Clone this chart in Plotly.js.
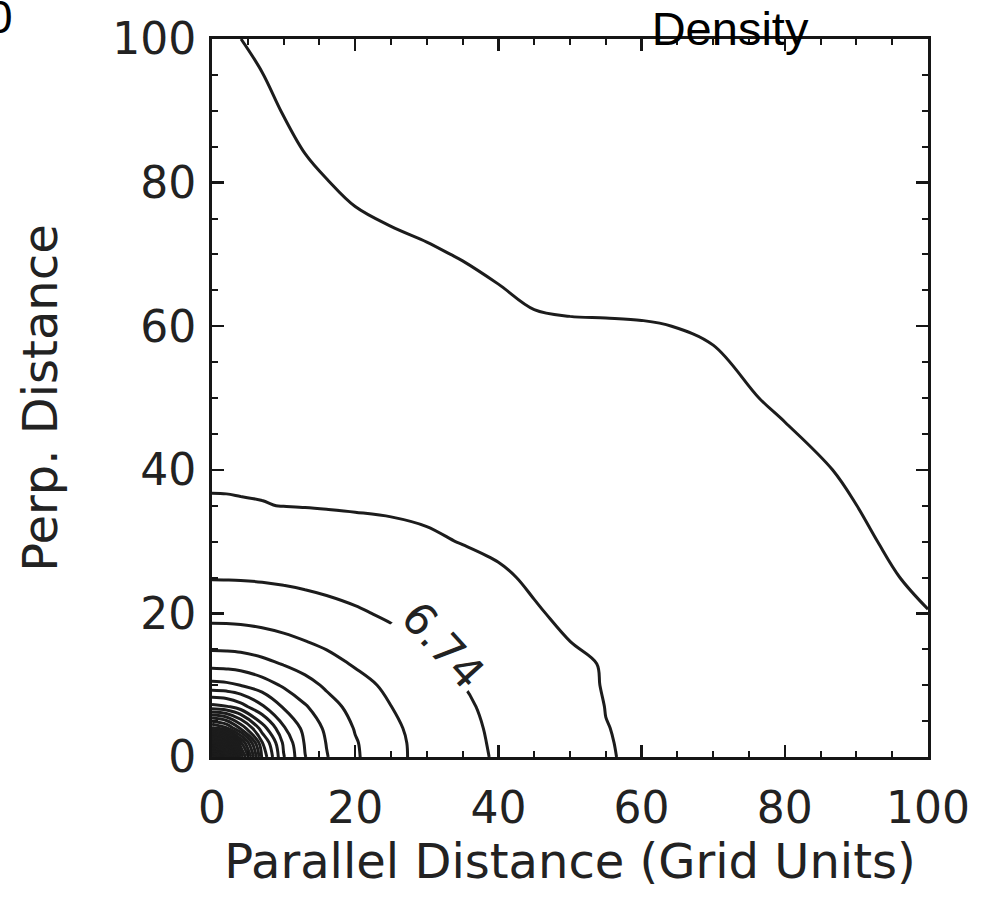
<!DOCTYPE html>
<html>
<head>
<meta charset="utf-8">
<script src="https://cdn.plot.ly/plotly-3.0.1.min.js"></script>
<style>
html,body{margin:0;padding:0;background:#fff;}
#chart{width:986px;height:901px;}
</style>
</head>
<body>
<div id="chart"></div>
<script>
// Grid nodes (grid units)
const parallelDist = [0, 2, 4, 7, 10, 13, 16, 20, 25, 30, 35, 40, 45, 50, 55, 60, 70, 80, 90, 100];
const perpDist = [0, 2, 4, 7, 10, 13, 16, 20, 25, 30, 35, 40, 50, 60, 70, 80, 90, 100];

// Density, one row per perpDist value
const density = [
  [110.8, 75.7, 47.0, 28.8, 20.4, 15.8, 13.6, 11.5, 9.59, 8.29, 7.26, 6.56, 5.80, 5.21, 4.56, 4.34, 3.93, 3.53, 3.12, 2.72],
  [66.5, 55.9, 40.9, 27.1, 19.8, 15.5, 13.4, 11.4, 9.57, 8.25, 7.24, 6.49, 5.77, 5.21, 4.54, 4.34, 3.93, 3.53, 3.12, 2.70],
  [38.9, 36.4, 31.1, 23.6, 18.3, 15.0, 13.1, 11.1, 9.39, 8.18, 7.17, 6.43, 5.73, 5.17, 4.52, 4.31, 3.89, 3.48, 3.06, 2.65],
  [23.2, 22.7, 21.2, 18.3, 15.5, 13.7, 12.1, 10.5, 9.01, 7.91, 7.01, 6.29, 5.62, 5.10, 4.47, 4.27, 3.84, 3.42, 2.99, 2.58],
  [16.4, 16.2, 15.7, 14.5, 13.2, 12.0, 10.9, 9.73, 8.52, 7.53, 6.76, 6.07, 5.48, 4.97, 4.40, 4.22, 3.77, 3.35, 2.92, 2.49],
  [12.7, 12.6, 12.4, 11.8, 11.1, 10.4, 9.66, 8.79, 7.84, 7.06, 6.40, 5.80, 5.28, 4.83, 4.38, 4.16, 3.71, 3.28, 2.85, 2.43],
  [10.3, 10.3, 10.2, 9.91, 9.50, 9.06, 8.61, 7.98, 7.26, 6.61, 6.04, 5.53, 5.06, 4.50, 4.22, 4.07, 3.62, 3.19, 2.74, 2.31],
  [8.29, 8.27, 8.22, 8.07, 7.86, 7.62, 7.35, 6.97, 6.47, 6.00, 5.55, 5.12, 4.58, 4.31, 4.09, 3.98, 3.53, 3.08, 2.63, 2.27],
  [6.64, 6.63, 6.61, 6.54, 6.43, 6.29, 6.13, 5.91, 5.60, 5.28, 4.97, 4.63, 4.36, 4.20, 4.00, 3.82, 3.39, 2.97, 2.52, 2.07],
  [5.53, 5.53, 5.51, 5.48, 5.42, 5.33, 5.24, 5.10, 4.90, 4.67, 4.45, 4.31, 4.16, 3.98, 3.82, 3.64, 3.24, 2.83, 2.38, 1.93],
  [4.55, 4.55, 4.54, 4.52, 4.48, 4.45, 4.41, 4.36, 4.31, 4.25, 4.18, 4.09, 3.93, 3.78, 3.60, 3.42, 3.06, 2.67, 2.25, 1.82],
  [4.39, 4.38, 4.36, 4.34, 4.29, 4.27, 4.22, 4.18, 4.07, 3.95, 3.86, 3.82, 3.73, 3.57, 3.42, 3.21, 2.88, 2.52, 2.11, 1.69],
  [4.04, 4.02, 3.98, 3.89, 3.82, 3.73, 3.69, 3.62, 3.53, 3.39, 3.24, 3.12, 3.08, 3.06, 3.01, 2.88, 2.49, 2.11, 1.78, 1.39],
  [3.69, 3.66, 3.62, 3.48, 3.37, 3.26, 3.17, 3.08, 2.97, 2.85, 2.72, 2.54, 2.36, 2.34, 2.34, 2.31, 2.16, 1.80, 1.37, 0.99],
  [3.33, 3.30, 3.26, 3.12, 2.94, 2.83, 2.67, 2.56, 2.45, 2.34, 2.20, 2.04, 1.87, 1.66, 1.53, 1.53, 1.55, 1.46, 1.10, 0.67],
  [2.99, 2.94, 2.90, 2.76, 2.58, 2.40, 2.27, 2.09, 1.93, 1.80, 1.69, 1.55, 1.39, 1.21, 0.97, 0.79, 0.76, 0.81, 0.72, 0.40],
  [2.63, 2.58, 2.54, 2.43, 2.22, 2.02, 1.84, 1.64, 1.46, 1.28, 1.17, 1.03, 0.90, 0.72, 0.60, 0.50, 0.45, 0.42, 0.40, 0.38],
  [2.36, 2.29, 2.25, 2.09, 1.89, 1.66, 1.46, 1.24, 0.99, 0.79, 0.70, 0.64, 0.58, 0.52, 0.48, 0.45, 0.42, 0.40, 0.38, 0.36]
];

// Contour levels
const levelStart = 2.247;
const levelStep = 2.247;
const levelEnd = 112;
const labelText = '6.74';

// Axis ticks
const tickValues = [0, 20, 40, 60, 80, 100];
const tickLabels = ['0', '20', '40', '60', '80', '100'];

const ink = '#161616';

const trace = {
  type: 'contour',
  x: parallelDist,
  y: perpDist,
  z: density,
  showscale: false,
  hoverinfo: 'skip',
  contours: {coloring: 'none', start: levelStart, end: levelEnd, size: levelStep, showlabels: false},
  line: {color: '#1c1c1c', width: 3, smoothing: 1}
};

const axisBase = {
  range: [0, 100],
  tickmode: 'array',
  tickvals: tickValues,
  ticktext: tickLabels,
  ticks: 'inside',
  ticklen: 12,
  tickwidth: 2.5,
  tickcolor: ink,
  showline: true,
  linecolor: ink,
  linewidth: 3,
  mirror: 'ticks',
  showgrid: false,
  zeroline: false,
  automargin: false,
  fixedrange: true,
  minor: {dtick: 5, tick0: 0, ticks: 'inside', ticklen: 6, tickwidth: 2, tickcolor: ink, showgrid: false},
  tickfont: {family: 'DejaVu Sans', size: 44, color: '#222'}
};

const layout = {
  width: 986,
  height: 901,
  margin: {l: 212, r: 58, t: 39, b: 144, pad: 0},
  paper_bgcolor: '#ffffff',
  plot_bgcolor: '#ffffff',
  showlegend: false,
  title: {
    text: 'Density',
    font: {family: 'Liberation Sans', size: 47, color: '#000'},
    xref: 'container', x: 0.7404, xanchor: 'center',
    yref: 'container', y: 0.968, yanchor: 'middle'
  },
  xaxis: Object.assign({}, axisBase, {
    ticklabelstandoff: 10,
    title: {text: 'Parallel Distance (Grid Units)', font: {family: 'DejaVu Sans', size: 48, color: '#222'}, standoff: 4}
  }),
  yaxis: Object.assign({}, axisBase, {
    ticklabelstandoff: 4,
    title: {text: 'Perp. Distance', font: {family: 'DejaVu Sans', size: 48, color: '#222'}, standoff: 40}
  }),
  annotations: [
    {
      text: labelText, xref: 'x', yref: 'y', x: 32.2, y: 15.6,
      showarrow: false, textangle: 48,
      font: {family: 'DejaVu Sans', size: 44, color: '#222'},
      bgcolor: '#ffffff', borderpad: 1
    },
    {
      text: '0', xref: 'paper', yref: 'paper', x: -0.2751, y: 1.0306,
      xanchor: 'right', yanchor: 'middle', showarrow: false,
      font: {family: 'Liberation Sans', size: 46, color: '#000'}
    }
  ]
};

Plotly.newPlot('chart', [trace], layout, {displayModeBar: false, staticPlot: true});
</script>
</body>
</html>
